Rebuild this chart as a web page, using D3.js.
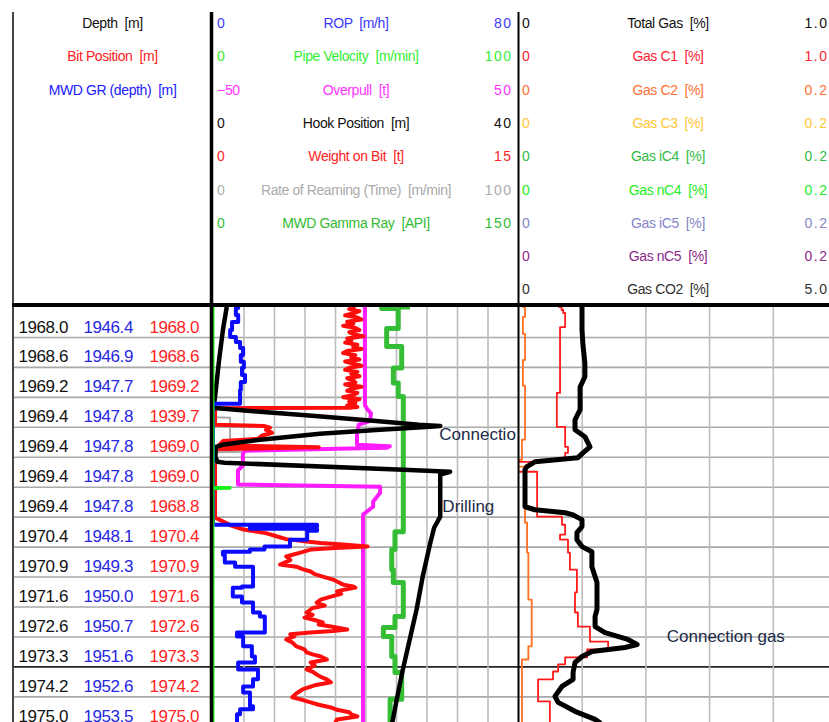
<!DOCTYPE html>
<html>
<head>
<meta charset="utf-8">
<script src="https://cdn.jsdelivr.net/npm/d3@7/dist/d3.min.js"></script>
<style>
  html, body { margin: 0; padding: 0; background: #fff; }
  svg { display: block; font-family: "Liberation Sans", Arial, sans-serif; }
  text { white-space: pre; }
</style>
</head>
<body>
<svg id="log" width="829" height="722"></svg>
<script>
// ---------- depth table (one row per time-grid interval) ----------
const rowIndex = d3.range(0, 14);
const depthLabels      = [1968.0, 1968.6, 1969.2, 1969.4, 1969.4, 1969.4, 1969.4, 1970.4, 1970.9, 1971.6, 1972.6, 1973.3, 1974.2, 1975.0];
const gammaDepthLabels = [1946.4, 1946.9, 1947.7, 1947.8, 1947.8, 1947.8, 1947.8, 1948.1, 1949.3, 1950.0, 1950.7, 1951.6, 1952.6, 1953.5];
const bitPosLabels     = [1968.0, 1968.6, 1969.2, 1939.7, 1969.0, 1969.0, 1968.8, 1970.4, 1970.9, 1971.6, 1972.6, 1973.3, 1974.2, 1975.0];
const majorRows = [12];

// ---------- headers ----------
const track1Titles = ["Depth  [m]", "Bit Position  [m]", "MWD GR (depth)  [m]"];

const track2Titles = ["ROP  [m/h]", "Pipe Velocity  [m/min]", "Overpull  [t]", "Hook Position  [m]",
                      "Weight on Bit  [t]", "Rate of Reaming (Time)  [m/min]", "MWD Gamma Ray  [API]"];
const track2Min = [0, 0, -50, 0, 0, 0, 0];
const track2Max = [80, 100, 50, 40, 15, 100, 150];

const track3Titles = ["Total Gas  [%]", "Gas C1  [%]", "Gas C2  [%]", "Gas C3  [%]", "Gas iC4  [%]",
                      "Gas nC4  [%]", "Gas iC5  [%]", "Gas nC5  [%]", "Gas CO2  [%]"];
const track3Min = [0, 0, 0, 0, 0, 0, 0, 0, 0];
const track3Max = [1.0, 1.0, 0.2, 0.2, 0.2, 0.2, 0.2, 0.2, 5.0];

// ---------- curves: [time (grid rows), value] ----------
const ropSeries = [[0,6.0],[0.03,6.6],[0.27,6.0],[0.5,6.6],[0.77,5.0],[1.0,4.5],[1.17,6.0],[1.37,7.1],[1.6,7.9],
  [1.83,7.3],[2.03,8.1],[2.27,7.6],[2.5,8.4],[2.77,7.3],[3.0,7.1],[3.23,7.1],[3.37,0],[7.27,0],[7.33,27.3],
  [7.4,9.7],[7.47,27.3],[7.53,24.7],[7.77,24.7],[8.0,20.2],[8.1,13.5],[8.17,9.7],[8.27,2.6],[8.53,3.1],
  [8.67,5.8],[8.77,10.5],[9.33,10.5],[9.37,7.6],[9.67,5.2],[9.87,7.6],[10.0,10.5],[10.2,10.5],[10.33,12.3],
  [10.43,13.6],[10.87,13.6],[11.0,6.3],[11.33,7.9],[11.43,10.2],[11.67,10.2],[11.87,11.0],[12.1,6.6],
  [12.2,11.8],[12.43,11.8],[12.67,10.5],[12.87,7.9],[13.1,9.7],[13.33,9.7],[13.43,10.5],[13.6,7.1],
  [13.77,6.3],[13.9,6.3]];

const pipeVelocitySeries = [[0,0],[6.02,0],[6.03,5.6],[6.05,5.6],[6.06,0],[13.9,0]];

const overpullSeries = [[0,-0.2],[3.27,-0.2],[3.4,0.5],[3.55,1.8],[3.8,1.5],[3.93,-2.2],[4.27,-2.8],[4.6,-2.8],
  [4.65,8.0],[4.7,7.0],[4.8,-39.5],[4.9,-40.2],[5.3,-40.2],[5.45,-41.8],[5.93,-41.8],[6.0,4.8],[6.2,4.8],
  [6.33,3.8],[6.5,2.5],[6.67,2.5],[6.77,1.2],[6.93,-0.8],[13.9,-0.8]];

const hookSeries = [[0,1.8],[0.77,1.3],[1.77,0.8],[2.93,0.3],[3.33,0.1],[3.37,0.3],[3.5,6.2],[3.63,13.0],
  [3.8,21.0],[3.93,27.0],[3.97,29.8],[4.0,28.5],[4.1,21.9],[4.23,14.0],[4.43,6.2],[4.6,1.2],[4.67,0.4],
  [5.0,0.3],[5.17,0.6],[5.2,1.5],[5.43,25.0],[5.5,31.1],[5.6,29.8],[7.0,29.8],[7.37,29.0],[7.87,28.5],
  [9.0,27.5],[10.1,26.7],[11.1,25.8],[12.1,24.9],[13.1,24.1],[13.9,23.5]];

const wobSeries = [[0,7.0],[0.07,6.7],[0.14,7.2],[0.21,6.9],[0.28,6.5],[0.35,7.1],[0.42,7.3],[0.49,6.6],
  [0.56,6.9],[0.63,6.4],[0.7,7.0],[0.77,7.2],[0.84,6.7],[0.91,6.9],[0.98,7.4],[1.05,6.6],[1.12,6.8],
  [1.19,6.5],[1.26,7.1],[1.33,6.9],[1.4,7.3],[1.47,6.6],[1.54,6.4],[1.61,7.0],[1.68,6.8],[1.75,7.2],
  [1.82,6.5],[1.89,6.9],[1.96,7.3],[2.03,6.7],[2.1,6.5],[2.17,7.1],[2.24,6.8],[2.31,7.2],[2.38,6.6],
  [2.45,6.9],[2.52,7.0],[2.59,6.5],[2.66,7.3],[2.73,6.8],[2.8,6.6],[2.87,7.1],[2.94,6.9],[3.01,6.4],
  [3.08,7.2],[3.15,6.7],[3.22,7.0],[3.29,6.6],[3.34,7.1],[3.36,6.8],[3.38,0.1],[3.93,0.1],[3.97,2.5],
  [4.03,2.8],[4.1,2.6],[4.2,2.9],[4.3,2.4],[4.4,2.2],[4.47,0.5],[4.62,0.3],[4.68,5.2],[4.75,0.1],
  [7.03,0.1],[7.2,0.6],[7.3,0.9],[7.43,1.5],[7.55,2.6],[7.67,3.2],[7.75,3.6],[7.83,4.6],[7.88,5.3],
  [7.93,6.4],[8.0,7.6],[8.05,6.0],[8.1,4.8],[8.2,4.3],[8.33,3.6],[8.45,3.8],[8.6,3.3],[8.67,4.1],
  [8.75,4.4],[8.83,4.8],[8.92,5.0],[9.0,5.4],[9.1,5.9],[9.2,6.2],[9.27,6.4],[9.33,6.9],[9.37,7.0],
  [9.43,6.5],[9.5,6.1],[9.58,6.3],[9.67,5.8],[9.77,5.3],[9.87,5.1],[9.97,5.5],[10.05,4.9],[10.2,4.6],
  [10.28,4.9],[10.37,4.5],[10.45,5.0],[10.53,5.4],[10.6,5.2],[10.67,5.8],[10.77,6.6],[10.82,5.9],
  [10.87,4.8],[10.93,3.8],[11.0,4.0],[11.1,3.6],[11.2,3.9],[11.33,4.1],[11.43,4.5],[11.53,4.6],
  [11.6,4.9],[11.67,5.3],[11.77,5.6],[11.87,4.8],[11.97,5.0],[12.1,4.6],[12.18,4.9],[12.27,5.1],
  [12.35,5.3],[12.43,5.6],[12.53,5.8],[12.63,5.0],[12.77,4.4],[12.9,4.1],[13.03,3.9],[13.1,4.3],
  [13.2,4.8],[13.28,5.2],[13.37,5.8],[13.45,6.1],[13.53,6.7],[13.6,6.8],[13.67,7.1],[13.77,6.1],[13.9,6.0]];

const reamingSeries = [[3.66,0],[3.68,0.6],[3.7,5.6],[4.5,5.6],[4.55,10.5],[4.83,10.5],[4.85,1.0],[4.87,0]];

const gammaSeries = [[0,96.9],[0.05,83.0],[0.72,91.1],[1.32,85.4],[2.04,92.8],[2.54,88.7],[2.99,91.1],
  [7.5,93.6],[8.1,89.5],[8.77,87.9],[9.2,88.7],[10.33,93.6],[10.7,89.5],[11.0,83.8],[11.67,87.9],
  [12.2,89.5],[13.1,92.8],[13.53,87.1],[13.9,87.1]];

const totalGasSeries = [[0,0.201],[0.77,0.201],[1.27,0.204],[1.87,0.210],[2.33,0.210],[2.67,0.195],
  [3.43,0.195],[3.77,0.179],[4.1,0.179],[4.33,0.210],[4.67,0.226],[4.87,0.204],[5.03,0.188],[5.17,0.053],
  [5.33,0.028],[5.43,0.022],[6.67,0.022],[6.77,0.053],[6.87,0.148],[6.93,0.170],[7.1,0.201],[7.33,0.201],
  [7.53,0.185],[7.77,0.185],[8.0,0.201],[8.17,0.232],[8.67,0.232],[9.2,0.248],[10.1,0.248],[10.33,0.242],
  [10.67,0.242],[10.87,0.273],[11.1,0.345],[11.27,0.374],[11.37,0.336],[11.5,0.232],[11.67,0.201],
  [11.87,0.179],[12.2,0.173],[12.43,0.173],[12.67,0.138],[13.0,0.116],[13.2,0.126],[13.5,0.179],
  [13.77,0.242],[13.9,0.26]];

const gasC1Series = [[0,0.127],[0.1,0.137],[0.2,0.142],[0.67,0.148],[2.87,0.132],[4.0,0.122],[4.67,0.148],
  [4.87,0.157],[5.1,0.148],[5.17,0.100],[5.5,0],[7.0,0.060],[7.27,0.138],[7.6,0.148],[7.77,0.132],
  [8.2,0.157],[8.77,0.163],[9.53,0.185],[10.2,0.179],[10.67,0.188],[11.17,0.226],[11.43,0.283],
  [11.7,0.217],[11.93,0.148],[12.17,0.126],[12.43,0.110],[13.17,0.063],[13.6,0.100],[13.9,0.100]];

const gasC2Series = [[0,0.0025],[0.33,0.0044],[0.9,0.0031],[1.77,0.0044],[2.63,0.0031],[4.43,0.0044],
  [5.1,0.0025],[5.33,0],[7.2,0.0044],[8.2,0.0057],[9.77,0.0065],[11.33,0.0086],[11.77,0.0065],
  [11.93,0.0025],[13.9,0.0025]];

const annotations = [
  { text: "Connectio", track: 2, t: 4.43, xFrac: 0.742 },
  { text: "Drilling", track: 2, t: 6.83, xFrac: 0.752 },
  { text: "Connection gas", track: 3, t: 11.18, xFrac: 0.467 }
];

// ---------- layout & style ----------
const T1 = { x0: 13, x1: 212 };
const T2 = { x0: 213, x1: 518 };
const T3 = { x0: 518, x1: 836.5 };
const DATA_TOP = 307, ROW_H = 29.95, BOTTOM = 722, HEADER_TOP = 12, HEADER_LINE = 305;

const track2Colors = ["#3a3aff", "#33ee33", "#ff33ff", "#111111", "#ff2222", "#aaaaaa", "#33bb33"];
const track3Colors = ["#111111", "#ff2030", "#ff7033", "#ffc838", "#33bb44", "#22ee22", "#8585c8", "#8a2a8a", "#303030"];

const svg = d3.select("#log");
const y = d3.scaleLinear().domain([0, 14]).range([DATA_TOP, DATA_TOP + 14 * ROW_H]);

const defs = svg.append("defs");
[["clipT1", T1], ["clipT2", T2], ["clipT3", T3]].forEach(([id, t]) => {
  defs.append("clipPath").attr("id", id).append("rect")
    .attr("x", t.x0).attr("y", DATA_TOP).attr("width", t.x1 - t.x0).attr("height", BOTTOM - DATA_TOP);
});

// ---------- grid ----------
const gridG = svg.append("g");
const hGrid = gridG.append("g").attr("transform", `translate(${T1.x0},0)`)
  .call(d3.axisRight(y).tickValues(d3.range(1, 14)).tickSize(T3.x1 - T1.x0).tickFormat(""));
hGrid.select(".domain").remove();
hGrid.selectAll(".tick line")
  .attr("stroke", d => majorRows.includes(d) ? "#222" : "#a9a9a9")
  .attr("stroke-width", 1.6);

const g2 = d3.scaleLinear().domain([0, 10]).range([T2.x0, T2.x1]);
const g3 = d3.scaleLinear().domain([0, 5]).range([T3.x0, T3.x1]);
[[g2, d3.range(1, 10)], [g3, d3.range(1, 5)]].forEach(([sc, vals]) => {
  const vg = gridG.append("g").attr("transform", `translate(0,${DATA_TOP})`)
    .call(d3.axisBottom(sc).tickValues(vals).tickSize(BOTTOM - DATA_TOP).tickFormat(""));
  vg.select(".domain").remove();
  vg.selectAll(".tick line").attr("stroke", "#bdbdbd").attr("stroke-width", 1.6);
});

// ---------- curves ----------
function drawCurve(track, clipId, series, min, max, color, width, curve) {
  const x = d3.scaleLinear().domain([min, max]).range([track.x0, track.x1]);
  const line = d3.line().x(d => x(d[1])).y(d => y(d[0])).curve(curve || d3.curveLinear);
  svg.append("path").attr("clip-path", `url(#${clipId})`)
    .datum(series).attr("d", line)
    .attr("fill", "none").attr("stroke", color).attr("stroke-width", width)
    .attr("stroke-linejoin", "round").attr("stroke-linecap", "butt");
}

// track 2 (drawn back to front)
drawCurve(T2, "clipT2", gammaSeries, track2Min[6], track2Max[6], "#36bd36", 5, d3.curveStepAfter);
drawCurve(T2, "clipT2", reamingSeries, track2Min[5], track2Max[5], "#a8a8a8", 2);
drawCurve(T2, "clipT2", overpullSeries, track2Min[2], track2Max[2], "#ff1cff", 4);
drawCurve(T2, "clipT2", wobSeries, track2Min[4], track2Max[4], "#ff0d0d", 4);
drawCurve(T2, "clipT2", hookSeries, track2Min[3], track2Max[3], "#000000", 4.5);
drawCurve(T2, "clipT2", ropSeries, track2Min[0], track2Max[0], "#0b0bff", 4, d3.curveStepAfter);
drawCurve(T2, "clipT2", pipeVelocitySeries, track2Min[1], track2Max[1], "#18f018", 3);

// track 3
drawCurve(T3, "clipT3", gasC2Series, track3Min[2], track3Max[2], "#ff7020", 1.8, d3.curveStepAfter);
drawCurve(T3, "clipT3", gasC1Series, track3Min[1], track3Max[1], "#ff1a1a", 1.8, d3.curveStepAfter);
drawCurve(T3, "clipT3", totalGasSeries, track3Min[0], track3Max[0], "#000000", 5);

// ---------- annotations ----------
const trackOf = { 2: [T2, "clipT2"], 3: [T3, "clipT3"] };
annotations.forEach(a => {
  const [t, clip] = trackOf[a.track];
  svg.append("text").attr("clip-path", `url(#${clip})`)
    .attr("x", t.x0 + a.xFrac * (t.x1 - t.x0)).attr("y", y(a.t))
    .attr("font-size", 17).attr("fill", "#1c2a48").text(a.text);
});

// ---------- depth table ----------
const labelCols = [
  { values: depthLabels, x: 68, color: "#111111" },
  { values: gammaDepthLabels, x: 133, color: "#2626e0" },
  { values: bitPosLabels, x: 199, color: "#ff1f1f" }
];
labelCols.forEach(col => {
  svg.append("g").selectAll("text").data(rowIndex).join("text")
    .attr("x", col.x).attr("y", i => y(i) + 25.5)
    .attr("text-anchor", "end").attr("font-size", 17).attr("letter-spacing", -0.4)
    .attr("fill", col.color).text(i => col.values[i].toFixed(1));
});

// ---------- headers ----------
const headRowY = i => 28 + i * 33.3;
const track1Colors = ["#111111", "#ff2020", "#2020ff"];
track1Titles.forEach((s, i) => {
  svg.append("text").attr("x", (T1.x0 + T1.x1) / 2).attr("y", headRowY(i))
    .attr("text-anchor", "middle").attr("font-size", 14).attr("letter-spacing", -0.4)
    .attr("fill", track1Colors[i]).text(s);
});

function header(titles, mins, maxs, colors, left, center, right, fmt) {
  titles.forEach((s, i) => {
    const g = svg.append("g").attr("fill", colors[i]).attr("font-size", 14);
    g.append("text").attr("x", left).attr("y", headRowY(i)).attr("letter-spacing", -0.3).text(fmt(mins[i]));
    g.append("text").attr("x", center).attr("y", headRowY(i)).attr("text-anchor", "middle")
      .attr("letter-spacing", -0.4).text(s);
    g.append("text").attr("x", right + 1.5).attr("y", headRowY(i)).attr("text-anchor", "end")
      .attr("letter-spacing", 1.5).text(fmt(maxs[i]));
  });
}
header(track2Titles, track2Min, track2Max, track2Colors, 217, 356, 511, d3.format("d"));
header(track3Titles, track3Min, track3Max, track3Colors, 522, 668, 827,
  v => v === 0 ? "0" : d3.format(".1f")(v));

// ---------- frame ----------
const frame = svg.append("g").attr("stroke", "#000");
frame.append("line").attr("x1", T1.x0).attr("x2", T1.x0).attr("y1", HEADER_TOP).attr("y2", BOTTOM)
  .attr("stroke", "#444").attr("stroke-width", 2);
frame.append("line").attr("x1", 211.5).attr("x2", 211.5).attr("y1", HEADER_TOP).attr("y2", BOTTOM)
  .attr("stroke-width", 3.5);
frame.append("line").attr("x1", T2.x1 + 0.5).attr("x2", T2.x1 + 0.5).attr("y1", HEADER_TOP).attr("y2", BOTTOM)
  .attr("stroke-width", 2);
frame.append("line").attr("x1", T1.x0 - 1).attr("x2", 829).attr("y1", HEADER_LINE).attr("y2", HEADER_LINE)
  .attr("stroke-width", 4);
</script>
</body>
</html>
